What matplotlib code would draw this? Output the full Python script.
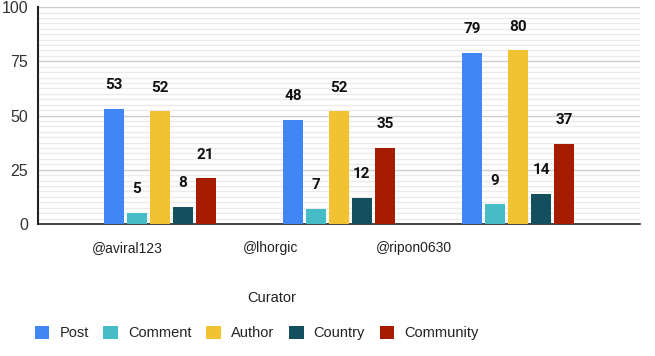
import numpy as np
import matplotlib.pyplot as plt
from matplotlib.ticker import MultipleLocator

curators = ["@aviral123", "@lhorgic", "@ripon0630"]
series = ["Post", "Comment", "Author", "Country", "Community"]
post = [53, 48, 79]
comment = [5, 7, 9]
author = [52, 52, 80]
country = [8, 12, 14]
community = [21, 35, 37]
colors = ["#4285F4", "#46BDC6", "#F1C232", "#134F5C", "#A61C00"]

plt.rcParams['font.family'] = ['Liberation Sans', 'DejaVu Sans']

fig = plt.figure(figsize=(6.55, 3.56), dpi=100)
ax = fig.add_axes([0.058, 0.371, 0.919, 0.609])

x = np.arange(len(curators))
pitch = 0.128
width = 0.11
values = [post, comment, author, country, community]
for i, (name, vals, col) in enumerate(zip(series, values, colors)):
	pos = x + (i - 2) * pitch
	ax.bar(pos, vals, width, color=col, label=name, zorder=3)
	for px, v in zip(pos, vals):
		ax.annotate(str(v), (px, v), xytext=(0, 17), textcoords="offset points",
			ha="center", va="center", fontsize=11, fontweight="bold",
			family=["Roboto", "DejaVu Sans"], color="#111111")

ax.set_xlim(-0.68, 2.68)
ax.set_ylim(0, 100)
ax.yaxis.set_major_locator(MultipleLocator(25))
ax.yaxis.set_minor_locator(MultipleLocator(2.5))
ax.grid(axis="y", which="major", color="#cccccc", linewidth=1, zorder=0)
ax.grid(axis="y", which="minor", color="#ebebeb", linewidth=1, zorder=0)
ax.tick_params(axis="y", which="both", length=0, labelsize=11.5, labelcolor="#333333", pad=7)

# category labels sit left of the bar groups in the original
ax.set_xticks(x * 0.8 - 0.18)
ax.set_xticklabels(curators)
ax.tick_params(axis="x", length=0, labelsize=10, labelcolor="#222222", pad=12)

for s in ["top", "right"]:
	ax.spines[s].set_visible(False)
ax.spines["left"].set_color("#222222")
ax.spines["left"].set_linewidth(1.5)
ax.spines["bottom"].set_color("#222222")
ax.spines["bottom"].set_linewidth(1.2)

fig.text(0.415, 0.163, "Curator", ha="center", va="center", fontsize=10.5, color="#222222")

fig.legend(loc="center", bbox_to_anchor=(0.392, 0.065), ncol=5, frameon=False,
	fontsize=10.5, handlelength=1.0, handleheight=1.0, handletextpad=0.7,
	columnspacing=1.0, labelcolor="#222222")

fig.savefig("out.png", dpi=100)
